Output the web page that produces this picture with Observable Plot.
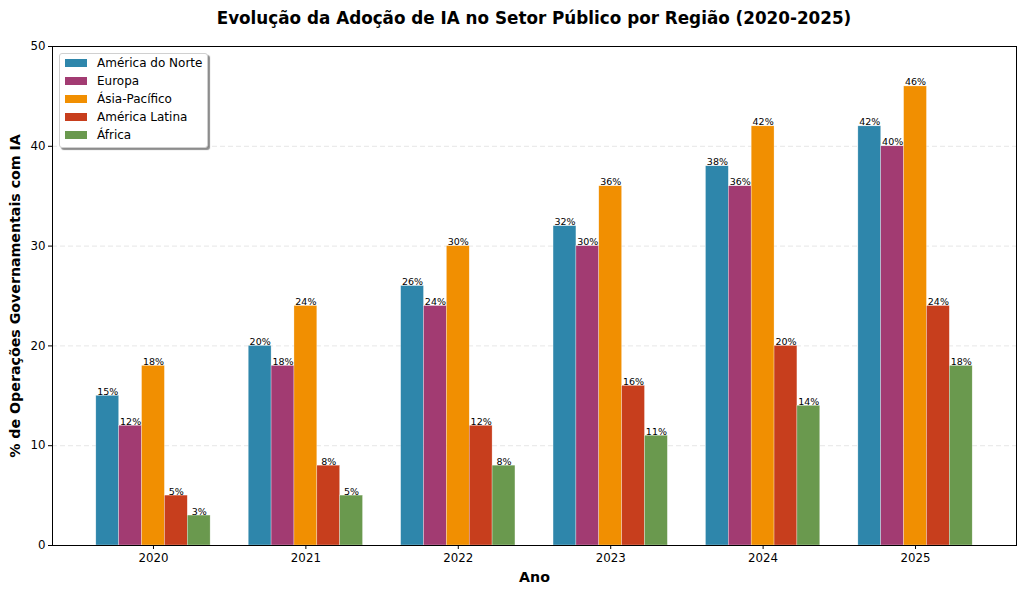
<!DOCTYPE html>
<html><head><meta charset="utf-8">
<script src="https://cdn.jsdelivr.net/npm/d3@7"></script>
<script src="https://cdn.jsdelivr.net/npm/@observablehq/plot@0.6"></script>
<style>
body{margin:0;background:#fff;font-family:"DejaVu Sans",sans-serif;}
#wrap{position:relative;width:1024px;height:594px;overflow:hidden;background:#fff;}
#title{position:absolute;left:52px;top:1px;width:964px;height:36px;line-height:34px;text-align:center;font-weight:bold;font-size:16.8px;color:#000;}
#ylabel{position:absolute;left:15px;top:296px;width:0;height:0;}
#ylabel span{position:absolute;left:0;top:0;transform:translate(-50%,-50%) rotate(-90deg);white-space:nowrap;font-weight:bold;font-size:14.2px;color:#000;}
.layer{position:absolute;left:0;top:36px;}
.layer svg{background:transparent !important;}
#legend{position:absolute;left:59px;top:53px;width:147px;height:93px;border:1px solid #d0d0d0;border-radius:3px;background:#fff;box-shadow:2px 2px 1px rgba(0,0,0,0.45);font-size:12px;}
.row{position:absolute;left:5px;height:18px;display:flex;align-items:center;}
.sw{width:22px;height:8px;margin-right:10px;}
g[aria-label="fx-axis label"] text{font-weight:bold;font-size:14.2px;}
</style></head>
<body><div id="wrap"><div id="title">Evolução da Adoção de IA no Setor Público por Região (2020-2025)</div><div id="grid" class="layer"></div><div id="chart" class="layer"></div><div id="frame" class="layer"></div><div id="ylabel"><span>% de Operações Governamentais com IA</span></div><div id="legend"></div></div>
<script>
const years = ["2020","2021","2022","2023","2024","2025"];
const regions = ["América do Norte","Europa","Ásia-Pacífico","América Latina","África"];
const colors = ["#2E86AB","#A23B72","#F18F01","#C73E1D","#6A994E"];
const americaNorte = [15,20,26,32,38,42];
const europa = [12,18,24,30,36,40];
const asiaPacifico = [18,24,30,36,42,46];
const americaLatina = [5,8,12,16,20,24];
const africa = [3,5,8,11,14,18];
const yTicks = [0,10,20,30,40,50];

const series = [americaNorte, europa, asiaPacifico, americaLatina, africa];
const data = [];
years.forEach((yr, i) => regions.forEach((r, j) => data.push({year: yr, region: r, value: series[j][i]})));

const common = {
  width: 1024, height: 558,
  marginLeft: 52, marginRight: 8, marginTop: 10, marginBottom: 49,
  style: {fontFamily: "DejaVu Sans", fontSize: "11.8px", color: "#000", background: "transparent"}
};

const gridPlot = Plot.plot({
  ...common,
  y: {domain: [0, 50]},
  marks: [
    Plot.gridY(yTicks.slice(1, 5), {stroke: "#b0b0b0", strokeOpacity: 0.4, strokeDasharray: "5,3", strokeWidth: 0.8}),
    Plot.axisY(yTicks, {tickSize: 4, tickPadding: 3, label: null})
  ]
});
document.getElementById("grid").appendChild(gridPlot);

const chart = Plot.plot({
  ...common,
  fx: {domain: years, paddingInner: 0.25, paddingOuter: 0.2875, round: false},
  x: {domain: regions, padding: 0, round: false, axis: null},
  y: {domain: [0, 50], axis: null},
  color: {domain: regions, range: colors},
  marks: [
    Plot.barY(data, {fx: "year", x: "region", y: "value", fill: "region", fillOpacity: 1, stroke: "#fff", strokeOpacity: 0.6, strokeWidth: 0.5}),
    Plot.text(data, {fx: "year", x: "region", y: "value", text: d => d.value + "%", lineAnchor: "bottom", dy: -1, fontSize: 9.5, fill: "#000"}),
    Plot.axisFx({anchor: "bottom", tickSize: 4, tickPadding: 4, label: "Ano", labelAnchor: "center", labelArrow: "none", labelOffset: 36})
  ]
});
document.getElementById("chart").appendChild(chart);

const framePlot = Plot.plot({
  ...common,
  y: {domain: [0, 50], axis: null},
  marks: [Plot.frame({stroke: "#000", strokeWidth: 1})]
});
document.getElementById("frame").appendChild(framePlot);

const lg = document.getElementById("legend");
regions.forEach((r, j) => {
  const row = document.createElement("div");
  row.className = "row";
  row.style.top = (0 + j * 18) + "px";
  row.innerHTML = `<span class="sw" style="background:${colors[j]}"></span><span>${r}</span>`;
  lg.appendChild(row);
});
</script></body></html>
